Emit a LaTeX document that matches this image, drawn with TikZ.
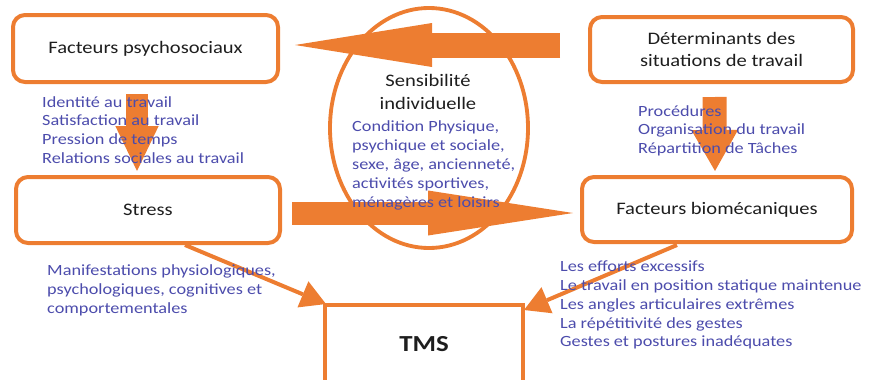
\documentclass[tikz,border=0pt]{standalone}
\usepackage{fontspec}
\setmainfont{Carlito}[FakeStretch=1.17]
\usetikzlibrary{arrows.meta,shapes.geometric,calc}
\definecolor{orangeTMS}{RGB}{237,125,49}
\definecolor{bleuTMS}{RGB}{76,76,172}
\definecolor{noirTMS}{RGB}{30,30,30}
\begin{document}
\begin{tikzpicture}[
		x=0.3mm, y=-0.3mm,
		cadre/.style={draw=orangeTMS, line width=1.2mm, rounded corners=3.6mm, text=noirTMS, align=center, inner sep=0pt, font=\fontsize{15}{18}\selectfont},
		liste/.style={text=bleuTMS, anchor=north west, align=left, inner sep=0pt, font=\fontsize{13.3}{16.1}\selectfont},
		grosse fleche/.style n args={3}{draw=orangeTMS, line width=#1, -{Triangle[length=#2, width=#3, line width=0pt]}},
		fleche/.style={draw=orangeTMS, line width=1.2mm, -{Triangle[length=7.5mm, width=8.5mm, line width=0pt]}}
	]
	\useasboundingbox (0,0) rectangle (870,379);
	\clip (0,0) rectangle (870,379);
	\node[draw=orangeTMS, line width=1.15mm, ellipse, minimum width=198*0.3mm, minimum height=240*0.3mm] (sensib) at (429,128) {};
	\node[cadre, minimum width=265*0.3mm, minimum height=67*0.3mm] (psycho) at (145.5,48.5) {Facteurs psychosociaux};
	\node[cadre, minimum width=263*0.3mm, minimum height=65*0.3mm] (determ) at (721.5,49.5) {Déterminants des\\situations de travail};
	\node[cadre, minimum width=264*0.3mm, minimum height=66*0.3mm] (stress) at (148,210) {Stress};
	\node[cadre, minimum width=270*0.3mm, minimum height=65*0.3mm] (biomeca) at (717,209.5) {Facteurs biomécaniques};
	\node[cadre, rounded corners=0pt, minimum width=198*0.3mm, minimum height=78*0.3mm, font=\bfseries\fontsize{19.6}{22}\selectfont] (tms) at (424,344) {TMS};
	\draw[grosse fleche={7.5mm}{41.1mm}{13.2mm}] ($(determ.west)+(-28,-4.5)$) -- ($(psycho.east)+(15,-3.5)$);
	\draw[grosse fleche={6.9mm}{43.5mm}{13.5mm}] ($(stress.east)+(10,3)$) -- ($(biomeca.west)+(-7,3.5)$);
	\draw[grosse fleche={6.6mm}{13.5mm}{13mm}] ($(psycho.south)+(-8.5,10)$) -- ($(stress.north)+(-11,-4)$);
	\draw[grosse fleche={7.2mm}{12.3mm}{14mm}] ($(determ.south)+(-7,13)$) -- ($(biomeca.north)+(-2,-4)$);
	\draw[fleche] ($(stress.south)+(37,0)$) -- ($(tms.north west)+(3,1)$);
	\draw[fleche] ($(biomeca.south)+(-40,1)$) -- ($(tms.north east)+(-1,7)$);
	\node[liste] (listepsycho) at (42,96) {Identité au travail\\Satisfaction au travail\\Pression de temps\\Relations sociales au travail};
	\node[liste] (listedeterm) at (638,105) {Procédures\\Organisation du travail\\Répartition de Tâches};
	\node[liste] (listestress) at (47,264.5) {Manifestations physiologiques,\\psychologiques, cognitives et\\comportementales};
	\node[liste] (listebiomeca) at (560,260.5) {Les efforts excessifs\\Le travail en position statique maintenue\\Les angles articulaires extrêmes\\La répétitivité des gestes\\Gestes et postures inadéquates};
	\node[text=noirTMS, align=center, font=\fontsize{15}{19.2}\selectfont] (titresensib) at (428,92) {Sensibilité\\individuelle};
	\node[liste] (listesensib) at (352,120.5) {Condition Physique,\\psychique et sociale,\\sexe, âge, ancienneté,\\activités sportives,\\ménagères et loisirs};
\end{tikzpicture}
\end{document}
